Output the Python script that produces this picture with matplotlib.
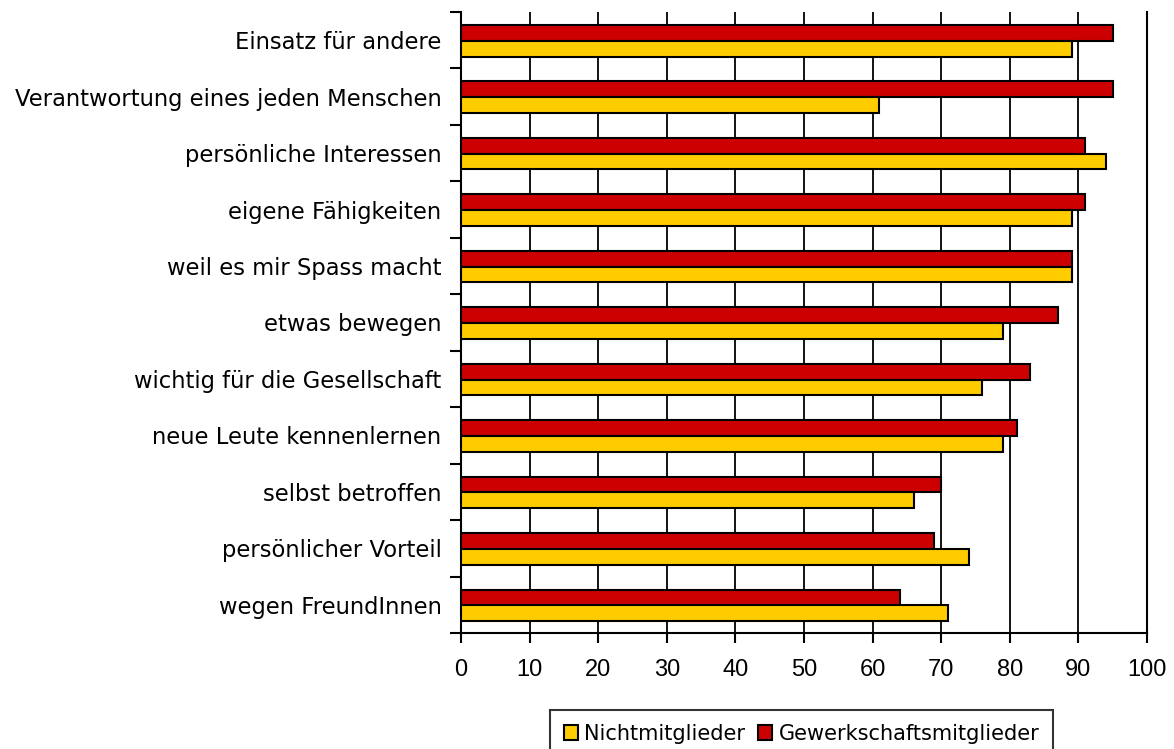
#!/usr/bin/env python3
"""Motive fuer Engagement: Gewerkschaftsmitglieder vs. Nichtmitglieder."""

import matplotlib

matplotlib.use("Agg")
import matplotlib.pyplot as plt
import numpy as np

CATEGORIES = [
    "Einsatz für andere",
    "Verantwortung eines jeden Menschen",
    "persönliche Interessen",
    "eigene Fähigkeiten",
    "weil es mir Spass macht",
    "etwas bewegen",
    "wichtig für die Gesellschaft",
    "neue Leute kennenlernen",
    "selbst betroffen",
    "persönlicher Vorteil",
    "wegen FreundInnen",
]
MITGLIEDER = [95, 95, 91, 91, 89, 87, 83, 81, 70, 69, 64]
NICHTMITGLIEDER = [89, 61, 94, 89, 89, 79, 76, 79, 66, 74, 71]
X_TICKS = list(range(0, 101, 10))

RED = "#cc0000"
YELLOW = "#ffcc00"

plt.rcParams["font.family"] = ["DejaVu Sans"]

fig = plt.figure(figsize=(11.74, 7.49), dpi=100)
ax = fig.add_axes([0.3927, 0.1549, 0.5843, 0.8291])

y = np.arange(len(CATEGORIES))
h = 0.28
ax.barh(y - 0.13, MITGLIEDER, height=h, color=RED, edgecolor="black",
        linewidth=1.5, label="Gewerkschaftsmitglieder", zorder=3)
ax.barh(y + 0.15, NICHTMITGLIEDER, height=h, color=YELLOW, edgecolor="black",
        linewidth=1.5, label="Nichtmitglieder", zorder=3)

ax.set_xlim(0, 100)
ax.set_ylim(len(CATEGORIES) - 0.5, -0.5)
ax.set_xticks(X_TICKS)
ax.set_xticklabels([str(t) for t in X_TICKS], fontsize=17,
                   family=["Liberation Sans", "DejaVu Sans"])
ax.set_yticks(y)
ax.set_yticklabels(CATEGORIES, fontsize=16.3)
ax.set_yticks(np.arange(len(CATEGORIES) + 1) - 0.5, minor=True)
ax.tick_params(axis="y", which="major", length=0, pad=14)
ax.tick_params(axis="y", which="minor", length=8, width=1.5, direction="out")
ax.tick_params(axis="x", length=7, width=1.5, direction="out", pad=12)

ax.grid(axis="x", color="black", linewidth=1.3, zorder=0)
ax.set_axisbelow(True)
ax.spines["top"].set_visible(False)
for side in ("left", "bottom", "right"):
    ax.spines[side].set_linewidth(1.5)

handles, labels = ax.get_legend_handles_labels()
leg = fig.legend(handles[::-1], labels[::-1], loc="upper center",
                 bbox_to_anchor=((553 + 1050) / 2 / 1174, 1 - 710 / 749),
                 ncol=2, fontsize=15, frameon=True, fancybox=False,
                 handlelength=0.7, handleheight=0.7, handletextpad=0.3,
                 columnspacing=0.6, borderpad=0.65, borderaxespad=0)
leg.get_frame().set_edgecolor("black")
leg.get_frame().set_linewidth(1.5)

fig.savefig("out.png", dpi=100)
